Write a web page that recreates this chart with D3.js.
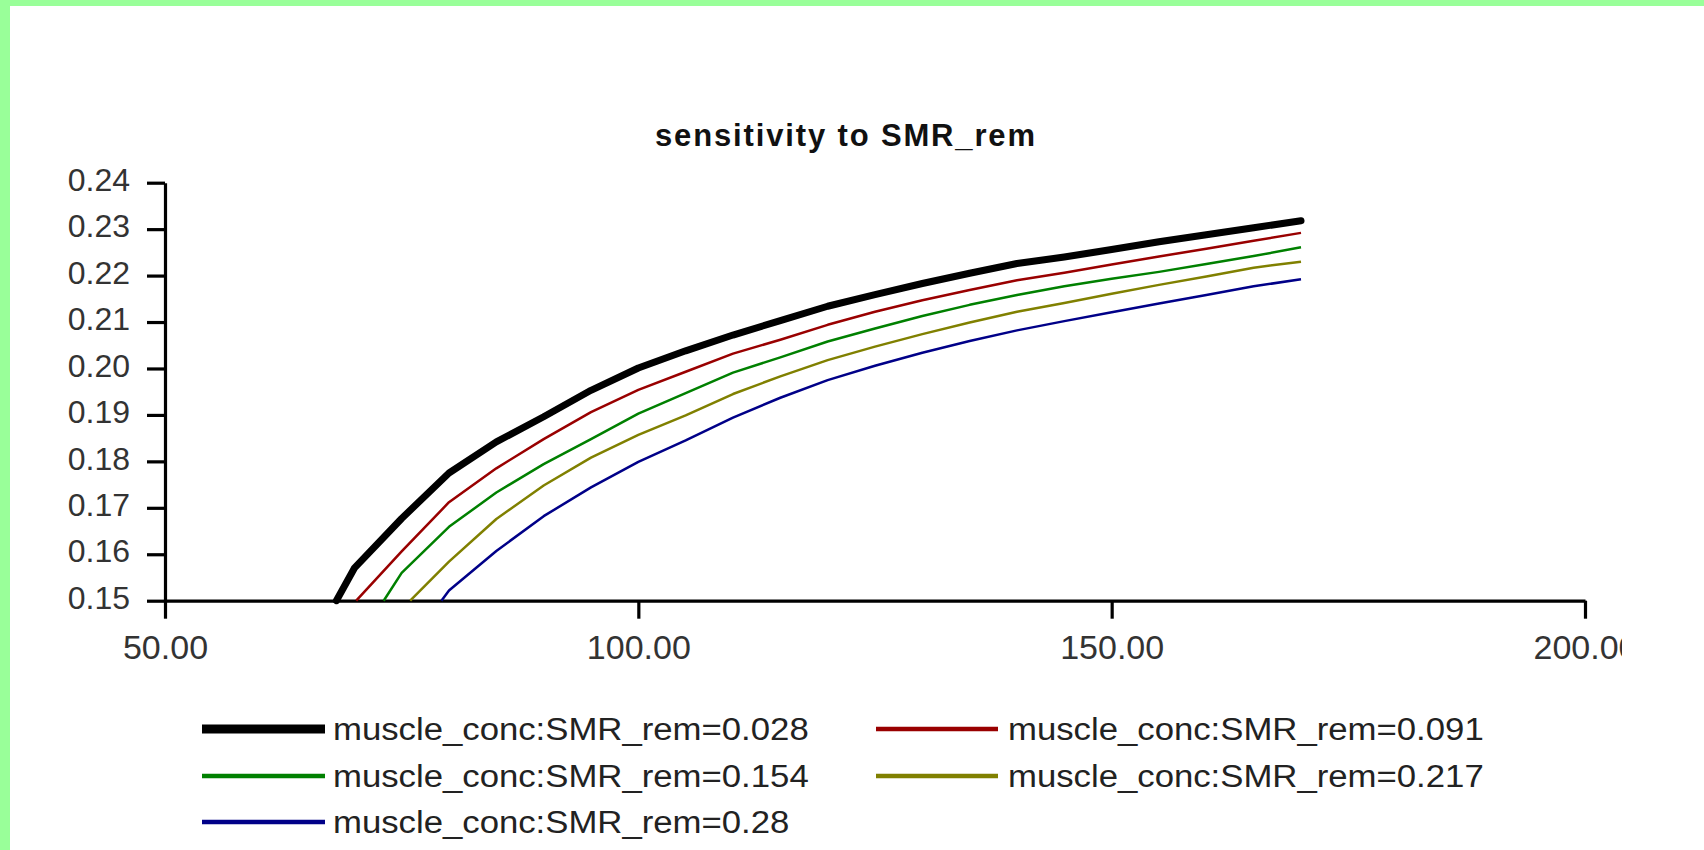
<!DOCTYPE html>
<html><head><meta charset="utf-8">
<script src="https://cdn.jsdelivr.net/npm/d3@7"></script>
<style>html,body{margin:0;padding:0;background:#fff;overflow:hidden}</style>
</head><body>
<svg id="chart" width="1704" height="850"></svg>
<script>
const chartTitle = "sensitivity to SMR_rem";
const seriesLabels = [
  "muscle_conc:SMR_rem=0.028",
  "muscle_conc:SMR_rem=0.091",
  "muscle_conc:SMR_rem=0.154",
  "muscle_conc:SMR_rem=0.217",
  "muscle_conc:SMR_rem=0.28"
];
const xTickValues = [50, 100, 150, 200];
const xTickLabels = ["50.00", "100.00", "150.00", "200.00"];
const yTickValues = [0.15, 0.16, 0.17, 0.18, 0.19, 0.20, 0.21, 0.22, 0.23, 0.24];
const yTickLabels = ["0.15", "0.16", "0.17", "0.18", "0.19", "0.20", "0.21", "0.22", "0.23", "0.24"];

const x028 = [68.1, 70, 75, 80, 85, 90, 95, 100, 105, 110, 115, 120, 125, 130, 135, 140, 145, 150, 155, 160, 165, 170];
const y028 = [0.150, 0.1570, 0.1677, 0.1775, 0.1842, 0.1896, 0.1953, 0.2001, 0.2038, 0.2072, 0.2103, 0.2134, 0.2159, 0.2183, 0.2205, 0.2226, 0.2240, 0.2256, 0.2273, 0.2288, 0.2303, 0.2318];

const x091 = [70.2, 75, 80, 85, 90, 95, 100, 105, 110, 115, 120, 125, 130, 135, 140, 145, 150, 155, 160, 165, 170];
const y091 = [0.150, 0.1606, 0.1712, 0.1785, 0.1848, 0.1906, 0.1954, 0.1993, 0.2032, 0.2062, 0.2094, 0.2122, 0.2147, 0.2169, 0.2190, 0.2206, 0.2224, 0.2241, 0.2258, 0.2275, 0.2292];

const x154 = [73.1, 75, 80, 85, 90, 95, 100, 105, 110, 115, 120, 125, 130, 135, 140, 145, 150, 155, 160, 165, 170];
const y154 = [0.150, 0.1560, 0.1659, 0.1733, 0.1794, 0.1848, 0.1903, 0.1947, 0.1991, 0.2024, 0.2058, 0.2086, 0.2113, 0.2137, 0.2158, 0.2177, 0.2193, 0.2208, 0.2225, 0.2242, 0.2261];

const x217 = [75.9, 80, 85, 90, 95, 100, 105, 110, 115, 120, 125, 130, 135, 140, 145, 150, 155, 160, 165, 170];
const y217 = [0.150, 0.1584, 0.1676, 0.1748, 0.1808, 0.1857, 0.1899, 0.1945, 0.1983, 0.2018, 0.2047, 0.2074, 0.2099, 0.2122, 0.2141, 0.2161, 0.2180, 0.2198, 0.2217, 0.2230];

const x280 = [79.2, 80, 85, 90, 95, 100, 105, 110, 115, 120, 125, 130, 135, 140, 145, 150, 155, 160, 165, 170];
const y280 = [0.150, 0.1522, 0.1607, 0.1682, 0.1744, 0.1799, 0.1845, 0.1894, 0.1937, 0.1975, 0.2006, 0.2034, 0.2059, 0.2082, 0.2102, 0.2121, 0.2140, 0.2158, 0.2177, 0.2192];

const seriesX = [x028, x091, x154, x217, x280];
const seriesY = [y028, y091, y154, y217, y280];

// styles (kept apart from data)
const colors = ["#000000", "#990000", "#008000", "#808000", "#000088"];
const lineWidths = [7, 2.5, 2.5, 2.5, 2.5];
const legendWidths = [9, 4.5, 4.5, 4.5, 4.5];

const svg = d3.select("#chart");
svg.append("rect").attr("x", 0).attr("y", 0).attr("width", 1704).attr("height", 850).attr("fill", "#fff");

const defs = svg.append("defs");
defs.append("clipPath").attr("id", "pageclip").append("rect")
  .attr("x", 0).attr("y", 0).attr("width", 1622).attr("height", 850);

const g = svg.append("g").attr("clip-path", "url(#pageclip)");

const x = d3.scaleLinear().domain([50, 200]).range([165, 1585]);
const y = d3.scaleLinear().domain([0.15, 0.24]).range([600.7, 182.7]);

// title
g.append("text")
  .attr("x", 655).attr("y", 146)
  .attr("font-family", "Liberation Sans, Arial, sans-serif")
  .attr("font-size", 31).attr("font-weight", "bold")
  .attr("fill", "#111")
  .attr("textLength", 380).attr("lengthAdjust", "spacing")
  .text(chartTitle);

// y axis
const yAxis = d3.axisLeft(y).tickValues(yTickValues)
  .tickFormat((d, i) => yTickLabels[i]).tickSize(18).tickSizeOuter(0).tickPadding(17);
const yG = g.append("g").attr("transform", "translate(165,0)").call(yAxis);
yG.select(".domain").attr("stroke", "#000").attr("stroke-width", 3.2);
yG.selectAll(".tick line").attr("stroke", "#000").attr("stroke-width", 3.2);
yG.selectAll(".tick text")
  .attr("font-family", "Liberation Sans, Arial, sans-serif")
  .attr("font-size", 32).attr("fill", "#333").attr("dy", "0.24em");

// x axis
const xAxis = d3.axisBottom(x).tickValues(xTickValues)
  .tickFormat((d, i) => xTickLabels[i]).tickSize(18).tickSizeOuter(0).tickPadding(10);
const xG = g.append("g").attr("transform", "translate(0,600.7)").call(xAxis);
xG.select(".domain").attr("stroke", "#000").attr("stroke-width", 3.2);
xG.selectAll(".tick line").attr("stroke", "#000").attr("stroke-width", 3.2);
xG.selectAll(".tick text")
  .attr("font-family", "Liberation Sans, Arial, sans-serif")
  .attr("font-size", 34).attr("fill", "#333").attr("dy", "0.9em");

// lines
const line = d3.line().x(d => x(d[0])).y(d => y(d[1]));
seriesX.forEach((xs, i) => {
  const pts = xs.map((v, j) => [v, seriesY[i][j]]);
  g.append("path").datum(pts)
    .attr("d", line)
    .attr("fill", "none")
    .attr("stroke", colors[i])
    .attr("stroke-width", lineWidths[i])
    .attr("stroke-linejoin", "round")
    .attr("stroke-linecap", i === 0 ? "round" : "butt");
});

// legend
const colLine = [[202, 325], [876, 998]];
const colText = [333, 1008];
const rowY = [729, 776, 822];
seriesLabels.forEach((lab, i) => {
  const c = i % 2, r = Math.floor(i / 2);
  g.append("line")
    .attr("x1", colLine[c][0]).attr("x2", colLine[c][1])
    .attr("y1", rowY[r]).attr("y2", rowY[r])
    .attr("stroke", colors[i]).attr("stroke-width", legendWidths[i]);
  const t = g.append("text")
    .attr("x", colText[c]).attr("y", rowY[r] + 11)
    .attr("font-family", "Liberation Sans, Arial, sans-serif")
    .attr("font-size", 31).attr("fill", "#222")
    .text(lab);
  const w = t.node().getComputedTextLength();
  t.attr("textLength", w * 1.12).attr("lengthAdjust", "spacingAndGlyphs");
});

// green page border
svg.append("rect").attr("x", 0).attr("y", 0).attr("width", 1704).attr("height", 6).attr("fill", "#99ff99");
svg.append("rect").attr("x", 0).attr("y", 0).attr("width", 10).attr("height", 850).attr("fill", "#99ff99");
</script>
</body></html>
